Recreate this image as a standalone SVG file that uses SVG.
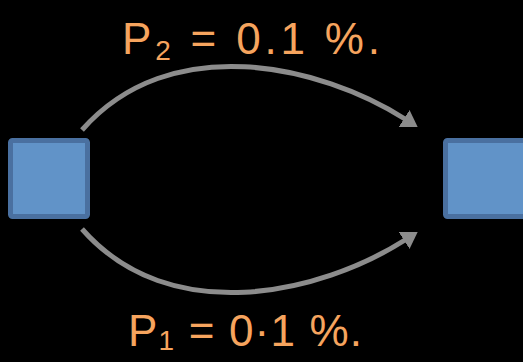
<svg xmlns="http://www.w3.org/2000/svg" width="523" height="362" viewBox="0 0 523 362">
<style>
.node{fill:#6193c8;stroke:#4a70a0;stroke-width:5}
.conn{fill:none;stroke:#8c8c8c;stroke-width:5}
.lbl{fill:#f6a45e;font-family:"Liberation Sans",Arial,sans-serif;font-size:44px}
</style>
<defs>
<marker id="ah" viewBox="0 0 16 20" refX="1" refY="10" markerWidth="16" markerHeight="20" markerUnits="userSpaceOnUse" orient="auto">
<path d="M0,0 L16,10 L0,20 z" fill="#8c8c8c"/>
</marker>
</defs>
<rect width="523" height="362" fill="#000"/>
<g id="connectors">
<path class="conn" d="M82,130 C170,30 320,65 405,119" marker-end="url(#ah)"/>
<path class="conn" d="M82,229 C170,329 320,294 405,240" marker-end="url(#ah)"/>
</g>
<g id="nodeA"><rect class="node" x="10.5" y="140.5" width="77" height="76" rx="2"/></g>
<g id="nodeB"><rect class="node" x="445.5" y="140.5" width="82" height="76" rx="2"/></g>
<g id="label-top"><text class="lbl" x="122" y="54" textLength="258" lengthAdjust="spacing">P<tspan font-size="28" dy="6">2</tspan><tspan dy="-6"> = 0.1 %.</tspan></text></g>
<g id="label-bottom"><text class="lbl" x="128" y="346" textLength="234" lengthAdjust="spacing">P<tspan font-size="28" dy="4">1</tspan><tspan dy="-4"> = 0·1 %.</tspan></text></g>
</svg>
